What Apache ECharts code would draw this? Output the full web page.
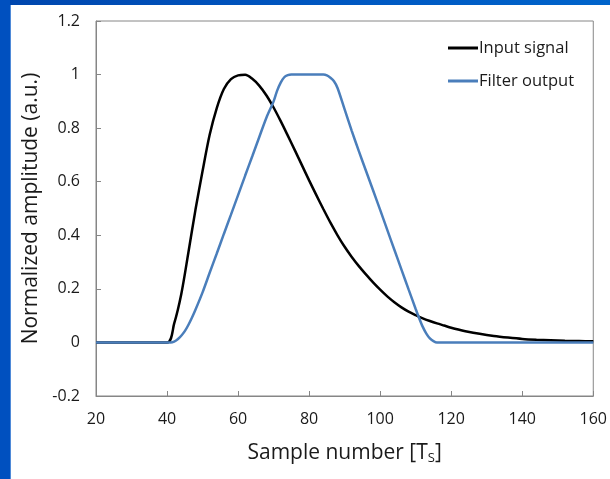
<!DOCTYPE html>
<html><head><meta charset="utf-8">
<script src="https://cdn.jsdelivr.net/npm/echarts@6/dist/echarts.min.js"></script>
<style>
html,body{margin:0;padding:0;width:610px;height:479px;overflow:hidden;}
body{background:linear-gradient(90deg,#0046ad 0%,#0056c0 50%,#0064cb 100%);position:relative;}
#leftband{position:absolute;left:0;top:0;width:10px;height:479px;background:#0050bf;}
#white{position:absolute;left:10px;top:5px;right:0;bottom:0;background:#fff;border-left:1px solid #4f8ad8;}
#chart{position:absolute;left:0;top:0;width:610px;height:479px;}
</style></head>
<body>
<div id="leftband"></div>
<div id="white"></div>
<div id="chart"></div>
<script>
var inputX = [20, 40, 42, 44, 46, 48, 50, 52, 54, 56, 58, 60, 62, 64, 66, 68, 70, 72, 74, 76, 78, 80, 82, 84, 86, 88, 90, 92, 94, 96, 98, 100, 102, 104, 106, 108, 110, 112, 114, 116, 118, 120, 122, 124, 128, 132, 136, 140, 144, 148, 152, 156, 160];
var inputY = [0, 0, 0.07, 0.18, 0.335, 0.495, 0.64, 0.775, 0.875, 0.946, 0.983, 0.997, 0.999, 0.984, 0.958, 0.922, 0.877, 0.826, 0.772, 0.717, 0.661, 0.605, 0.551, 0.498, 0.447, 0.40, 0.357, 0.319, 0.285, 0.254, 0.224, 0.197, 0.172, 0.15, 0.131, 0.115, 0.102, 0.09, 0.08, 0.071, 0.063, 0.055, 0.048, 0.042, 0.032, 0.024, 0.018, 0.013, 0.01, 0.008, 0.006, 0.005, 0.004];
var filterX = [20, 41, 42, 43, 44, 45, 46, 47, 48, 50, 52, 54, 56, 58, 60, 62, 64, 66, 68, 70, 71, 72, 73, 74, 75, 84, 85, 86, 87, 88, 90, 92, 94, 96, 98, 100, 102, 104, 106, 108, 110, 111, 112, 113, 114, 115, 116, 160];
var filterY = [0, 0, 0.003, 0.012, 0.025, 0.042, 0.065, 0.092, 0.122, 0.187, 0.26, 0.332, 0.405, 0.477, 0.55, 0.623, 0.695, 0.768, 0.84, 0.90, 0.94, 0.97, 0.99, 0.998, 1.0, 1.0, 0.997, 0.988, 0.975, 0.95, 0.87, 0.79, 0.714, 0.641, 0.568, 0.495, 0.42, 0.346, 0.272, 0.198, 0.125, 0.09, 0.058, 0.033, 0.015, 0.005, 0, 0];
var xTicks = {min: 20, max: 160, interval: 20};
var yTicks = {min: -0.2, max: 1.2, interval: 0.2};
var seriesNames = ['Input signal', 'Filter output'];

function pairs(xs, ys){ return xs.map(function(x,i){ return [x, ys[i]]; }); }

var FONT = 'Open Sans';
var TXT = '#1a1a1a';
var chart = echarts.init(document.getElementById('chart'), null, {renderer:'canvas'});
chart.setOption({
  animation: false,
  backgroundColor: 'transparent',
  grid: {left: 96, top: 21, right: 15, bottom: 83, show: true, borderColor: '#868686', borderWidth: 1, backgroundColor: 'transparent'},
  legend: {
    orient: 'vertical', left: 448, top: 38, padding: 0, itemGap: 13,
    itemWidth: 30, itemHeight: 3, icon: 'rect',
    textStyle: {fontFamily: FONT, fontSize: 16.5, color: TXT, lineHeight: 20, padding: [0,0,0,-4]},
    data: seriesNames
  },
  xAxis: {
    type: 'value', min: xTicks.min, max: xTicks.max, interval: xTicks.interval,
    name: 'Sample number [T{s|S}]', nameLocation: 'middle', nameGap: 46,
    nameTextStyle: {fontFamily: FONT, fontSize: 21, color: TXT,
      rich: {s: {fontFamily: FONT, fontSize: 13, color: TXT, padding: [10,0,0,0]}}},
    axisLine: {onZero: false, lineStyle: {color: '#868686', width: 1}},
    axisTick: {inside: true, length: 5, lineStyle: {color: '#868686'}},
    axisLabel: {fontFamily: FONT, fontSize: 16, color: TXT, margin: 15},
    splitLine: {show: false}
  },
  yAxis: {
    type: 'value', min: yTicks.min, max: yTicks.max, interval: yTicks.interval,
    name: 'Normalized amplitude (a.u.)', nameLocation: 'middle', nameGap: 49,
    nameTextStyle: {fontFamily: FONT, fontSize: 21, color: TXT},
    axisLine: {show: true, lineStyle: {color: '#868686', width: 1}},
    axisTick: {show: true, inside: true, length: 5, lineStyle: {color: '#868686'}},
    axisLabel: {fontFamily: FONT, fontSize: 16, color: TXT, margin: 16},
    splitLine: {show: false}
  },
  series: [
    {name: seriesNames[0], type: 'line', data: pairs(inputX, inputY), smooth: 0.3, showSymbol: false, symbol: 'none',
     lineStyle: {color: '#000000', width: 2.5}, itemStyle: {color: '#000000'}, z: 2},
    {name: seriesNames[1], type: 'line', data: pairs(filterX, filterY), smooth: 0.3, showSymbol: false, symbol: 'none',
     lineStyle: {color: '#4a7ebb', width: 2.5}, itemStyle: {color: '#4a7ebb'}, z: 3}
  ]
});
</script>
</body></html>
